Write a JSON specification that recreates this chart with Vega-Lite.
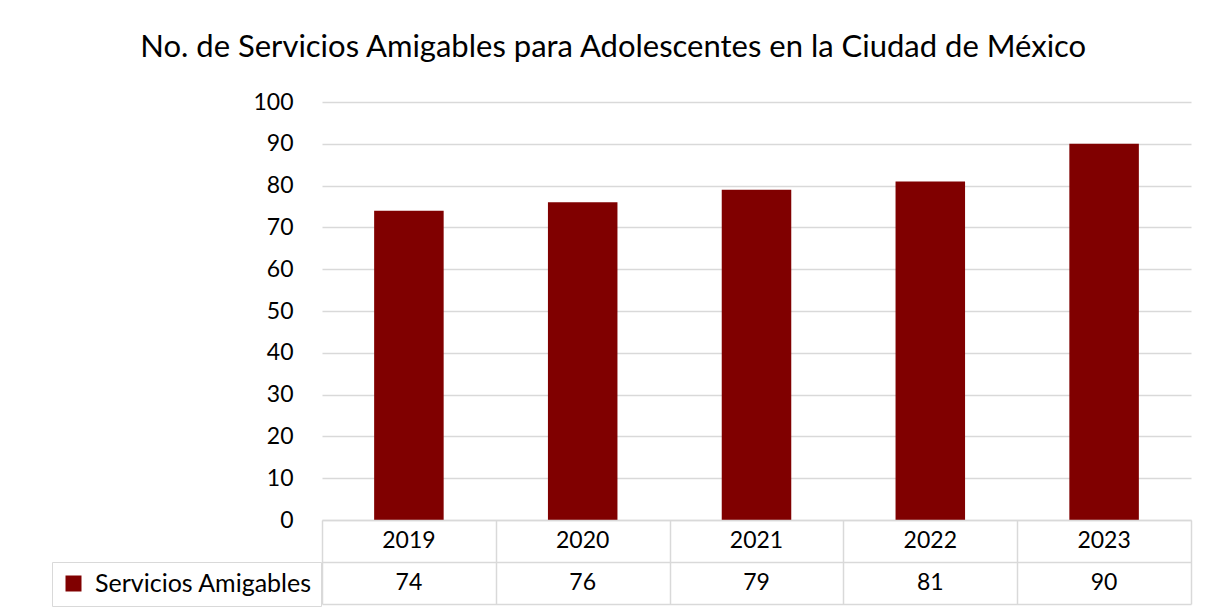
{
  "$schema": "https://vega.github.io/schema/vega-lite/v6.json",
  "padding": {"left": 51, "right": 26, "top": 32, "bottom": 9},
  "background": "white",
  "config": {"view": {"stroke": null}},
  "title": {
    "text": "No. de Servicios Amigables para Adolescentes en la Ciudad de México",
    "font": "Lato",
    "fontSize": 31,
    "fontWeight": "normal",
    "color": "#000000",
    "anchor": "middle",
    "baseline": "top",
    "offset": 27,
    "dx": -8
  },
  "data": {
    "values": [
      {"year": "2019", "value": 74, "series": "Servicios Amigables"},
      {"year": "2020", "value": 76, "series": "Servicios Amigables"},
      {"year": "2021", "value": 79, "series": "Servicios Amigables"},
      {"year": "2022", "value": 81, "series": "Servicios Amigables"},
      {"year": "2023", "value": 90, "series": "Servicios Amigables"}
    ]
  },
  "bounds": "flush",
  "spacing": 0,
  "resolve": {
    "scale": {"x": "independent", "y": "independent", "color": "independent"},
    "legend": {"color": "independent"}
  },
  "vconcat": [
    {
      "width": 869,
      "height": 418,
      "mark": {"type": "bar", "color": "#800000"},
      "encoding": {
        "x": {
          "field": "year",
          "type": "nominal",
          "sort": null,
          "scale": {"paddingInner": 0.6, "paddingOuter": 0.3},
          "axis": null
        },
        "y": {
          "field": "value",
          "type": "quantitative",
          "scale": {"domain": [0, 100], "nice": false},
          "axis": {
            "title": null,
            "values": [0, 10, 20, 30, 40, 50, 60, 70, 80, 90, 100],
            "domain": false,
            "ticks": false,
            "grid": true,
            "gridColor": "#d9d9d9",
            "gridWidth": 1.5,
            "labelFont": "Lato",
            "labelFontSize": 23,
            "labelColor": "#000000",
            "labelPadding": 29
          }
        },
        "color": {
          "field": "series",
          "type": "nominal",
          "scale": {"domain": ["Servicios Amigables"], "range": ["#800000"]},
          "legend": {
            "title": null,
            "orient": "none",
            "legendX": -270,
            "legendY": 460,
            "symbolType": "square",
            "symbolSize": 256,
            "symbolStrokeWidth": 0,
            "labelFont": "Lato",
            "labelFontSize": 25,
            "labelColor": "#000000",
            "labelOffset": 9,
            "labelLimit": 400,
            "strokeColor": "#d9d9d9",
            "padding": 9
          }
        }
      }
    },
    {
      "width": 869,
      "height": 84,
      "encoding": {
        "x": {
          "field": "year",
          "type": "nominal",
          "sort": null,
          "scale": {"paddingInner": 0, "paddingOuter": 0},
          "axis": {
            "title": null,
            "labels": false,
            "ticks": false,
            "domain": false,
            "grid": true,
            "tickBand": "extent",
            "gridColor": "#d9d9d9",
            "gridWidth": 1.5
          }
        }
      },
      "layer": [
        {
          "mark": {"type": "text", "font": "Lato", "fontSize": 23, "color": "#000000", "align": "center", "baseline": "middle"},
          "encoding": {
            "y": {
              "datum": "year",
              "type": "nominal",
              "scale": {"domain": ["year", "value"], "paddingInner": 0, "paddingOuter": 0},
              "axis": {
                "title": null,
                "labels": false,
                "ticks": false,
                "domain": false,
                "grid": true,
                "tickBand": "extent",
                "gridColor": "#d9d9d9",
                "gridWidth": 1.5
              }
            },
            "text": {"field": "year", "type": "nominal"}
          }
        },
        {
          "mark": {"type": "text", "font": "Lato", "fontSize": 23, "color": "#000000", "align": "center", "baseline": "middle"},
          "encoding": {
            "y": {"datum": "value", "type": "nominal"},
            "text": {"field": "value", "type": "quantitative"}
          }
        }
      ]
    }
  ]
}
